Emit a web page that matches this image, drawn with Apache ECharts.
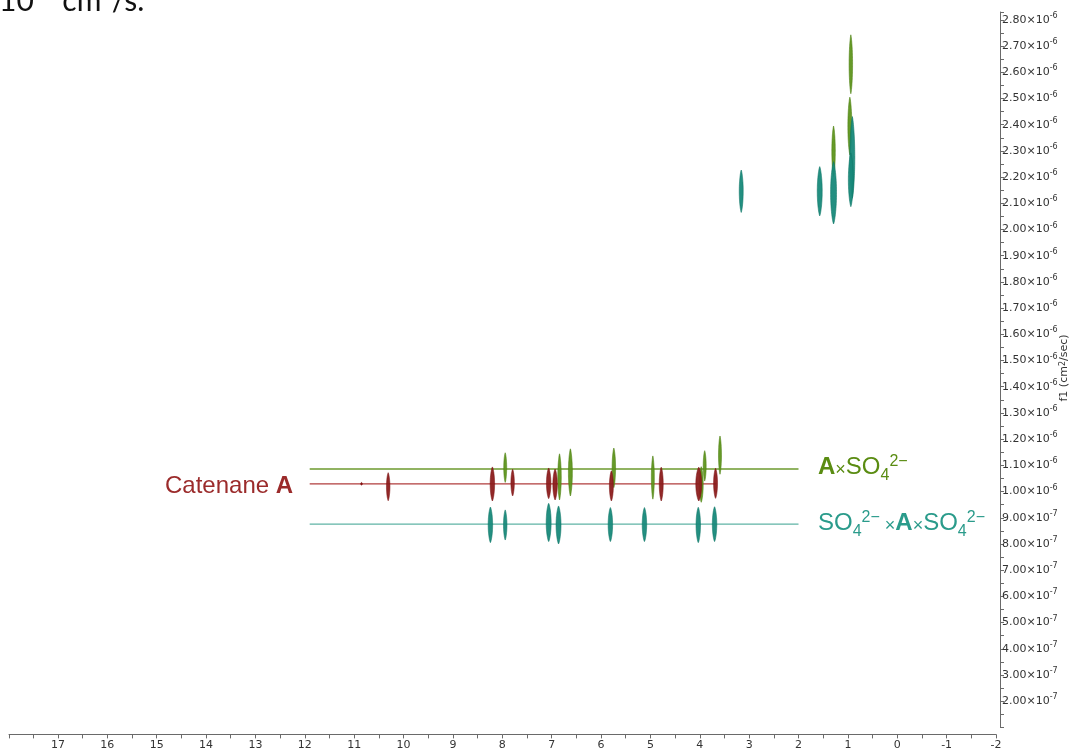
<!DOCTYPE html>
<html>
<head>
<meta charset="utf-8">
<script src="https://cdn.jsdelivr.net/npm/echarts@6/dist/echarts.min.js"></script>
<style>
  html, body { margin: 0; padding: 0; background: #fff; }
  #chart { width: 1070px; height: 755px; }
</style>
</head>
<body>
<div id="chart"></div>
<script>
// DOSY map: 1H chemical shift (ppm) against diffusion coefficient D.
// D values are stored in units of 10^-6 cm^2/s.

// Peak contours: [shift (ppm), D upper edge, D lower edge, half linewidth (ppm)]
const catenanePeaks = [
  [10.85, 1.035, 1.024, 0.015],
  [10.31, 1.072, 0.965, 0.035],
  [8.20, 1.094, 0.964, 0.045],
  [7.79, 1.085, 0.983, 0.035],
  [7.06, 1.090, 0.973, 0.045],
  [6.93, 1.086, 0.968, 0.045],
  [5.79, 1.079, 0.964, 0.040],
  [4.78, 1.093, 0.964, 0.040],
  [4.02, 1.093, 0.964, 0.060],
  [3.68, 1.089, 0.974, 0.040]
];
const monoSulfatePeaks = [
  [7.94, 1.148, 1.035, 0.030],
  [6.84, 1.144, 0.968, 0.035],
  [6.62, 1.163, 0.983, 0.040],
  [5.74, 1.166, 1.015, 0.035],
  [4.95, 1.136, 0.971, 0.030],
  [3.97, 1.095, 0.959, 0.040],
  [3.90, 1.156, 1.040, 0.030],
  [3.59, 1.212, 1.066, 0.030],
  [1.29, 2.395, 2.202, 0.035],
  [0.94, 2.743, 2.518, 0.035],
  [0.96, 2.505, 2.285, 0.040]
];
const bisSulfatePeaks = [
  [8.24, 0.941, 0.805, 0.045],
  [7.94, 0.930, 0.815, 0.035],
  [7.06, 0.955, 0.809, 0.050],
  [6.86, 0.945, 0.800, 0.050],
  [5.81, 0.939, 0.809, 0.045],
  [5.12, 0.939, 0.809, 0.045],
  [4.03, 0.940, 0.805, 0.045],
  [3.70, 0.942, 0.809, 0.045],
  [3.16, 2.227, 2.065, 0.040],
  [1.57, 2.240, 2.052, 0.050],
  [1.29, 2.259, 2.021, 0.060],
  [0.91, 2.431, 2.119, 0.050],
  [0.94, 2.292, 2.087, 0.050]
];

// Mean diffusion coefficient of each species, drawn across its shift range
const catenaneLine = [[11.9, 1.029], [3.66, 1.029]];
const monoSulfateLine = [[11.9, 1.086], [2.0, 1.086]];
const bisSulfateLine = [[11.9, 0.876], [2.0, 0.876]];

const RED = { line: '#b03c3c', fill: '#8c1c1c', stroke: '#7a1212', text: '#9b2b2b' };
const GREEN = { line: '#6c9a2e', fill: '#5e951c', stroke: '#4d8010', text: '#5a8c12' };
const TEAL = { line: '#5fb3a5', fill: '#17897a', stroke: '#0d7465', text: '#2a9b8b' };

const chart = echarts.init(document.getElementById('chart'), null, { renderer: 'canvas' });

function lens(cx, yTop, yBot, rx) {
  const pts = [];
  const n = 40;
  const cy = (yTop + yBot) / 2, ry = (yBot - yTop) / 2;
  for (let i = 0; i <= n; i++) {
    const t = -1 + 2 * i / n;
    pts.push([cx + rx * Math.pow(1 - t * t, 0.75), cy + t * ry]);
  }
  for (let i = n - 1; i > 0; i--) {
    const t = -1 + 2 * i / n;
    pts.push([cx - rx * Math.pow(1 - t * t, 0.75), cy + t * ry]);
  }
  return pts;
}

function peakSeries(name, data, c) {
  return {
    type: 'custom',
    name: name,
    data: data,
    encode: { x: 0, y: [1, 2] },
    z: 3,
    renderItem: function (params, api) {
      const ppm = api.value(0);
      const pTop = api.coord([ppm, api.value(1)]);
      const pBot = api.coord([ppm, api.value(2)]);
      const pSide = api.coord([ppm - api.value(3), api.value(1)]);
      const rx = Math.max(0.8, Math.abs(pSide[0] - pTop[0]));
      return {
        type: 'polygon',
        shape: { points: lens(pTop[0], pTop[1], pBot[1], rx) },
        style: { fill: c.fill, stroke: c.stroke, lineWidth: 0.6, opacity: 0.95 }
      };
    }
  };
}

function lineSeries(name, data, c) {
  return {
    type: 'line',
    name: name,
    data: data,
    symbol: 'none',
    silent: true,
    z: 2,
    lineStyle: { color: c.line, width: 1.3 }
  };
}

// Text run with sub/superscripts laid out piece by piece
const measureCtx = document.createElement('canvas').getContext('2d');
function textRun(x, baseline, parts, color) {
  const children = [];
  let cx = x;
  parts.forEach(function (p) {
    const text = p[0], size = p[1], weight = p[2], rise = p[3];
    const font = weight + ' ' + size + 'px "Liberation Sans", Arial, sans-serif';
    measureCtx.font = font;
    children.push({
      type: 'text',
      x: cx,
      y: baseline - rise - 0.36 * size,
      style: { text: text, font: font, fill: color, align: 'left', verticalAlign: 'middle' }
    });
    cx += measureCtx.measureText(text).width;
  });
  return { type: 'group', children: children };
}

const yLabelFormatter = function (v) {
  const k = Math.round(v * 10);
  if (Math.abs(v * 10 - k) > 1e-6 || k < 2) return '';
  if (k >= 10) return '{m|' + (k / 10).toFixed(2) + '×10}{e|-6}';
  return '{m|' + k.toFixed(2) + '×10}{e|-7}';
};

const option = {
  animation: false,
  backgroundColor: '#ffffff',
  grid: { left: 9, right: 74, top: 12, bottom: 27.6, containLabel: false },
  xAxis: {
    type: 'value',
    min: -2,
    max: 17.99,
    interval: 1,
    inverse: true,
    offset: 7,
    axisLine: { show: true, onZero: false, lineStyle: { color: '#6a6a6a', width: 1 } },
    axisTick: { show: true, inside: false, length: 4, lineStyle: { color: '#6a6a6a' } },
    minorTick: { show: true, splitNumber: 2, length: 4, lineStyle: { color: '#6a6a6a' } },
    splitLine: { show: false },
    axisLabel: {
      fontFamily: 'DejaVu Sans',
      fontSize: 11,
      color: '#333',
      margin: 5,
      formatter: function (v) {
        const r = Math.round(v);
        return Math.abs(v - r) < 1e-6 ? String(r) : '';
      }
    }
  },
  yAxis: {
    type: 'value',
    position: 'right',
    min: 0.1,
    max: 2.83,
    interval: 0.1,
    offset: 4,
    axisLine: { show: true, onZero: false, lineStyle: { color: '#6a6a6a', width: 1 } },
    axisTick: { show: true, inside: false, length: 4, lineStyle: { color: '#6a6a6a' } },
    minorTick: { show: true, splitNumber: 2, length: 4, lineStyle: { color: '#6a6a6a' } },
    splitLine: { show: false },
    axisLabel: {
      margin: 2,
      formatter: yLabelFormatter,
      rich: {
        m: { fontFamily: 'DejaVu Sans', fontSize: 11, color: '#333', lineHeight: 16 },
        e: { fontFamily: 'DejaVu Sans', fontSize: 8, color: '#333', lineHeight: 8, verticalAlign: 'top' }
      }
    }
  },
  series: [
    lineSeries('A×SO4 line', monoSulfateLine, GREEN),
    lineSeries('Catenane line', catenaneLine, RED),
    lineSeries('SO4×A×SO4 line', bisSulfateLine, TEAL),
    peakSeries('A×SO4', monoSulfatePeaks, GREEN),
    peakSeries('SO4×A×SO4', bisSulfatePeaks, TEAL),
    peakSeries('Catenane A', catenanePeaks, RED)
  ],
  graphic: [
    {
      type: 'text',
      x: -1,
      y: 21,
      style: {
        text: '10{s|−6} cm{s|2}/s.',
        font: '30px Lato, "Open Sans", sans-serif',
        fill: '#111',
        lineHeight: 40,
        verticalAlign: 'bottom',
        rich: { s: { font: '18px Lato, sans-serif', fill: '#111', verticalAlign: 'top', lineHeight: 14 } }
      }
    },
    {
      type: 'text',
      x: 1064,
      y: 368,
      rotation: Math.PI / 2,
      style: {
        text: 'f1 (cm{s|2}/sec)',
        font: '11px "DejaVu Sans"',
        fill: '#333',
        align: 'center',
        verticalAlign: 'middle',
        rich: { s: { font: '8px "DejaVu Sans"', fill: '#333', verticalAlign: 'top', lineHeight: 8 } }
      }
    },
    textRun(165, 495.5, [['Catenane ', 24, 'normal', 0], ['A', 24, 'bold', 0]], RED.text),
    textRun(818, 476.5, [
      ['A', 24, 'bold', 0], ['×', 18, 'normal', 0], ['SO', 24, 'normal', 0],
      ['4', 16, 'normal', -5], ['2−', 16, 'normal', 9]
    ], GREEN.text),
    textRun(818, 532.5, [
      ['SO', 24, 'normal', 0], ['4', 16, 'normal', -5], ['2−', 16, 'normal', 9],
      [' ×', 18, 'normal', 0], ['A', 24, 'bold', 0], ['×', 18, 'normal', 0],
      ['SO', 24, 'normal', 0], ['4', 16, 'normal', -5], ['2−', 16, 'normal', 9]
    ], TEAL.text)
  ]
};

chart.setOption(option);
</script>
</body>
</html>
